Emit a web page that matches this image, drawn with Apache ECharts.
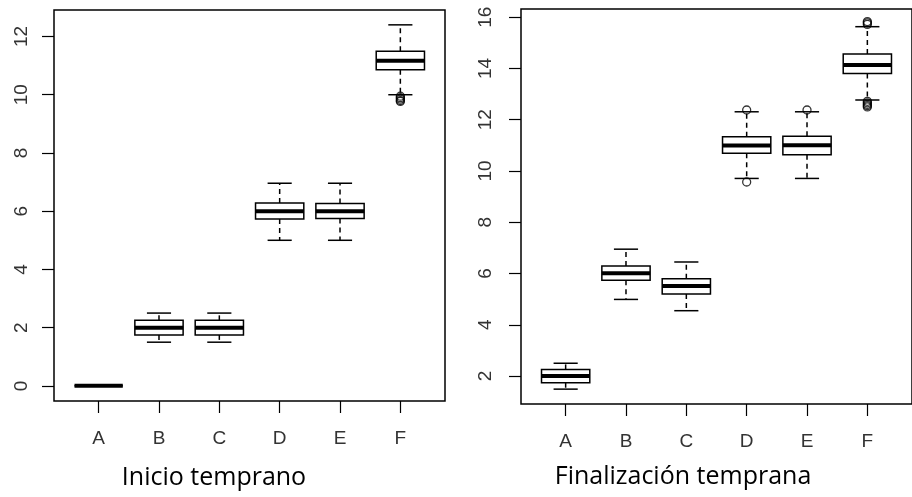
<!DOCTYPE html>
<html>
<head>
<meta charset="utf-8">
<script src="https://cdn.jsdelivr.net/npm/echarts@6/dist/echarts.min.js"></script>
<style>
html,body{margin:0;padding:0;background:#fff;}
#chart{width:912px;height:497px;}
</style>
</head>
<body>
<div id="chart"></div>
<script>
// ---- data ----
const categories = ['A', 'B', 'C', 'D', 'E', 'F'];
// [min whisker, Q1, median, Q3, max whisker]
const inicioStats = [
  [0, 0, 0, 0, 0],
  [1.5, 1.75, 2.0, 2.25, 2.5],
  [1.5, 1.75, 2.0, 2.25, 2.5],
  [5.0, 5.73, 6.0, 6.28, 6.96],
  [5.0, 5.75, 6.0, 6.26, 6.96],
  [10.0, 10.86, 11.17, 11.49, 12.4]
];
const inicioOutliers = [[], [], [], [], [], [9.95, 9.9, 9.85, 9.8, 9.77]];
const finalStats = [
  [1.49, 1.74, 2.0, 2.26, 2.5],
  [4.99, 5.74, 6.01, 6.29, 6.95],
  [4.55, 5.2, 5.51, 5.8, 6.45],
  [9.71, 10.69, 10.99, 11.34, 12.31],
  [9.71, 10.63, 11.0, 11.36, 12.31],
  [12.77, 13.8, 14.14, 14.56, 15.63]
];
const finalOutliers = [[], [], [], [12.38, 9.57], [12.38], [15.72, 15.78, 15.83, 12.72, 12.66, 12.6, 12.55, 12.5]];
const inicioTicks = [0, 2, 4, 6, 8, 10, 12];
const finalTicks = [2, 4, 6, 8, 10, 12, 14, 16];
const categoryTicks = [1, 2, 3, 4, 5, 6];
const titles = ['Inicio temprano', 'Finalización temprana'];

// ---- build ----
function boxData(stats) {
  return stats.map((s, i) => [i + 1].concat(s));
}
function outlierData(outs) {
  const d = [];
  outs.forEach((arr, i) => arr.forEach(v => d.push([i + 1, v])));
  return d;
}
function renderBox(params, api) {
  const x = api.value(0);
  const lo = api.coord([x, api.value(1)]);
  const q1 = api.coord([x, api.value(2)]);
  const med = api.coord([x, api.value(3)]);
  const q3 = api.coord([x, api.value(4)]);
  const hi = api.coord([x, api.value(5)]);
  const bw = api.size([0.8, 0])[0];
  const half = bw / 2, cap = bw / 4;
  const cx = med[0];
  const stroke = {stroke: '#000', lineWidth: 1.5, fill: null};
  const dashed = {stroke: '#000', lineWidth: 1.5, lineDash: [5, 4], fill: null};
  return {
    type: 'group',
    children: [
      {type: 'line', shape: {x1: cx, y1: q3[1], x2: cx, y2: hi[1]}, style: dashed},
      {type: 'line', shape: {x1: cx, y1: q1[1], x2: cx, y2: lo[1]}, style: dashed},
      {type: 'line', shape: {x1: cx - cap, y1: hi[1], x2: cx + cap, y2: hi[1]}, style: stroke},
      {type: 'line', shape: {x1: cx - cap, y1: lo[1], x2: cx + cap, y2: lo[1]}, style: stroke},
      {type: 'rect', shape: {x: cx - half, y: q3[1], width: bw, height: q1[1] - q3[1]},
        style: {stroke: '#000', lineWidth: 1.5, fill: '#fff'}},
      {type: 'line', shape: {x1: cx - half, y1: med[1], x2: cx + half, y2: med[1]},
        style: {stroke: '#000', lineWidth: 4, fill: null}}
    ]
  };
}
function xAxisDef(gi) {
  return {
    type: 'value', gridIndex: gi, min: 0.26, max: 6.74,
    axisLine: {show: false, onZero: false},
    splitLine: {show: false},
    axisTick: {show: true, customValues: categoryTicks, length: 12, lineStyle: {color: '#000', width: 1.2}},
    axisLabel: {customValues: categoryTicks, margin: 28, fontSize: 19, color: '#333',
      fontFamily: 'Liberation Sans, Arial, sans-serif',
      formatter: v => categories[Math.round(v) - 1]}
  };
}
function yAxisDef(gi, min, max, ticks, margin) {
  return {
    type: 'value', gridIndex: gi, min: min, max: max,
    axisLine: {show: false, onZero: false},
    splitLine: {show: false},
    axisTick: {show: true, customValues: ticks, length: 12, lineStyle: {color: '#000', width: 1.2}},
    axisLabel: {customValues: ticks, margin: margin, fontSize: 19, rotate: 90, color: '#333',
      fontFamily: 'Liberation Sans, Arial, sans-serif'}
  };
}
const outlierStyle = {color: 'rgba(0,0,0,0)', borderColor: '#000', borderWidth: 1.3};

const chart = echarts.init(document.getElementById('chart'), null, {renderer: 'canvas'});
chart.setOption({
  backgroundColor: '#fff',
  animation: false,
  grid: [
    {left: 54, top: 10, width: 391, height: 391, show: true, borderColor: '#000', borderWidth: 1.5, backgroundColor: 'transparent'},
    {left: 521, top: 9, width: 396, height: 395, show: true, borderColor: '#000', borderWidth: 1.5, backgroundColor: 'transparent'}
  ],
  xAxis: [xAxisDef(0), xAxisDef(1)],
  yAxis: [
    yAxisDef(0, -0.52, 12.91, inicioTicks, 23),
    yAxisDef(1, 0.91, 16.32, finalTicks, 26)
  ],
  series: [
    {type: 'custom', xAxisIndex: 0, yAxisIndex: 0, data: boxData(inicioStats),
      encode: {x: 0, y: [1, 2, 3, 4, 5]}, renderItem: renderBox, silent: true},
    {type: 'scatter', xAxisIndex: 0, yAxisIndex: 0, data: outlierData(inicioOutliers),
      symbol: 'circle', symbolSize: 8, itemStyle: outlierStyle, silent: true},
    {type: 'custom', xAxisIndex: 1, yAxisIndex: 1, data: boxData(finalStats),
      encode: {x: 0, y: [1, 2, 3, 4, 5]}, renderItem: renderBox, silent: true},
    {type: 'scatter', xAxisIndex: 1, yAxisIndex: 1, data: outlierData(finalOutliers),
      symbol: 'circle', symbolSize: 8, itemStyle: outlierStyle, silent: true}
  ],
  graphic: [
    {type: 'text', x: 214, y: 478, style: {text: titles[0], fill: '#000', font: '25px "Open Sans", sans-serif', textAlign: 'center', textVerticalAlign: 'middle'}},
    {type: 'text', x: 683, y: 477, style: {text: titles[1], fill: '#000', font: '25px "Open Sans", sans-serif', textAlign: 'center', textVerticalAlign: 'middle'}}
  ]
});
</script>
</body>
</html>
